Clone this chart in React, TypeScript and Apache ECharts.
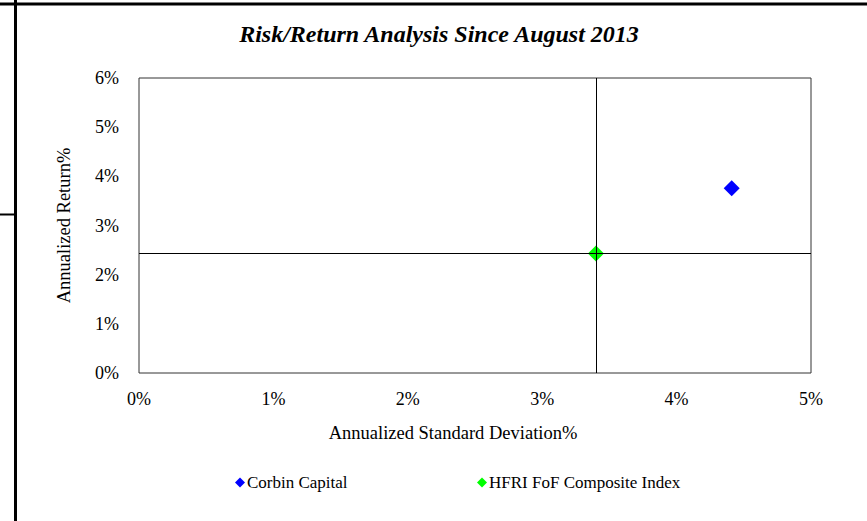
import React, { useEffect, useRef } from "react";
import * as echarts from "echarts";

const seriesNames = ["Corbin Capital", "HFRI FoF Composite Index"];
const stdDev = [4.41, 3.4];
const annReturn = [3.76, 2.43];
const colors = ["#0000ff", "#00ff00"];
const xTicks = [0, 1, 2, 3, 4, 5];
const yTicks = [0, 1, 2, 3, 4, 5, 6];

export default function App() {
  const ref = useRef<HTMLDivElement>(null);
  useEffect(() => {
    const chart = echarts.init(ref.current!, null, { renderer: "svg" });
    const font = "'Liberation Serif', 'Times New Roman', serif";
    chart.setOption({
      animation: false,
      textStyle: { fontFamily: font },
      title: {
        text: "Risk/Return Analysis Since August 2013",
        left: 434,
        top: 17,
        textAlign: "center",
        textStyle: { fontFamily: font, fontSize: 24, fontWeight: "bold", fontStyle: "italic", color: "#000" },
      },
      grid: { left: 139, top: 78, width: 672, height: 295, show: true, borderColor: "#333", borderWidth: 1, backgroundColor: "transparent" },
      xAxis: {
        type: "value",
        min: xTicks[0],
        max: xTicks[xTicks.length - 1],
        interval: 1,
        name: "Annualized Standard Deviation%",
        nameLocation: "middle",
        nameGap: 50,
        nameTextStyle: { fontFamily: font, fontSize: 18.5, color: "#000", padding: [0, 44, 0, 0] },
        axisLine: { show: false },
        axisTick: { show: false },
        splitLine: { show: false },
        axisLabel: { formatter: (v: number) => v + "%", fontFamily: font, fontSize: 18, color: "#000", margin: 17 },
      },
      yAxis: {
        type: "value",
        min: yTicks[0],
        max: yTicks[yTicks.length - 1],
        interval: 1,
        name: "Annualized Return%",
        nameLocation: "middle",
        nameGap: 66,
        nameTextStyle: { fontFamily: font, fontSize: 18.5, color: "#000" },
        axisLine: { show: false },
        axisTick: { show: false },
        splitLine: { show: false },
        axisLabel: { formatter: (v: number) => v + "%", fontFamily: font, fontSize: 18, color: "#000", margin: 20 },
      },
      legend: [
        {
          data: [{ name: seriesNames[0], icon: "diamond" }],
          left: 230,
          top: 469,
          itemWidth: 10,
          itemHeight: 10,
          itemGap: 4,
          textStyle: { fontFamily: font, fontSize: 17, color: "#000", padding: [0, 0, 0, -3] },
        },
        {
          data: [{ name: seriesNames[1], icon: "diamond" }],
          left: 472,
          top: 469,
          itemWidth: 10,
          itemHeight: 10,
          textStyle: { fontFamily: font, fontSize: 17, color: "#000", padding: [0, 0, 0, -3] },
        },
      ],
      series: [
        {
          name: seriesNames[0],
          type: "scatter",
          symbol: "diamond",
          symbolSize: 16,
          itemStyle: { color: colors[0], opacity: 1 },
          data: [[stdDev[0], annReturn[0]]],
        },
        {
          name: seriesNames[1],
          type: "scatter",
          symbol: "diamond",
          symbolSize: 16,
          itemStyle: { color: colors[1], opacity: 1 },
          data: [[stdDev[1], annReturn[1]]],
          z: 3,
          markLine: {
            silent: true,
            symbol: "none",
            label: { show: false },
            lineStyle: { color: "#000", width: 1, type: "solid" },
            data: [{ xAxis: stdDev[1] }, { yAxis: annReturn[1] }],
          },
        },
      ],
      graphic: [
        { type: "line", shape: { x1: 0, y1: 4, x2: 867, y2: 4 }, style: { stroke: "#000", lineWidth: 3 } },
        { type: "line", shape: { x1: 15.5, y1: 0, x2: 15.5, y2: 521 }, style: { stroke: "#000", lineWidth: 3 } },
        { type: "line", shape: { x1: 0, y1: 214.5, x2: 15, y2: 214.5 }, style: { stroke: "#000", lineWidth: 2 } },
      ],
    });
    return () => chart.dispose();
  }, []);
  return <div ref={ref} style={{ position: "absolute", left: 0, top: 0, width: 867, height: 521, background: "#fff" }} />;
}
